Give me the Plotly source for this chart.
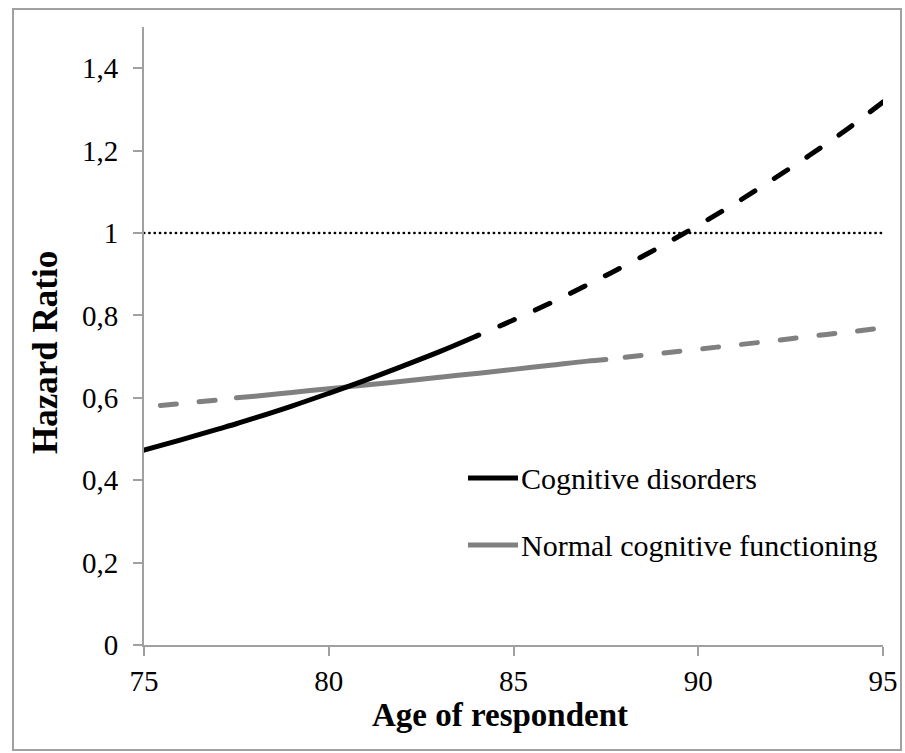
import numpy as np
import plotly.graph_objects as go

# ---------------- data ----------------
age = [75, 76, 77, 77.5, 78, 79, 80, 81, 82, 83, 84, 85, 86, 87, 87.5, 88, 89, 90, 91, 92, 93, 94, 95]
hr_cognitive = [0.473, 0.498, 0.524, 0.537, 0.551, 0.580, 0.611, 0.643, 0.677, 0.712, 0.750, 0.789,
                0.830, 0.874, 0.897, 0.920, 0.968, 1.019, 1.072, 1.129, 1.188, 1.250, 1.318]
hr_normal = [0.578, 0.586, 0.595, 0.600, 0.604, 0.613, 0.622, 0.631, 0.640, 0.650, 0.659, 0.669,
             0.679, 0.689, 0.693, 0.698, 0.708, 0.718, 0.728, 0.738, 0.749, 0.759, 0.770]
series_names = ["Cognitive disorders", "Normal cognitive functioning"]
cognitive_solid_range = (75, 84)
normal_solid_range = (77.5, 87.5)
ref_x = [75, 95]
ref_y = [1, 1]
x_ticks = [75, 80, 85, 90, 95]
y_ticks = [0, 0.2, 0.4, 0.6, 0.8, 1.0, 1.2, 1.4]
y_tick_labels = ["0", "0,2", "0,4", "0,6", "0,8", "1", "1,2", "1,4"]
x_title = "Age of respondent"
y_title = "Hazard Ratio"

# ---------------- style ----------------
FONT = "Liberation Serif, Times New Roman, serif"
BLACK = "#000000"
GREY = "#808080"
AXIS = "#a0a0a0"
LW = 5
DASH = "16px,23px"
W, H = 905, 753
ML, MR, MT, MB = 144, 22, 27, 108
PW = W - ML - MR
PH = H - MT - MB


def px_x(p):
    return (p - ML) / PW


def px_y(p):
    return (H - MB - p) / PH


a = np.array(age)
c = np.array(hr_cognitive)
n = np.array(hr_normal)

fig = go.Figure()

# reference line at HR = 1
fig.add_trace(go.Scatter(x=ref_x, y=ref_y, mode="lines",
                         line=dict(color=BLACK, width=2.5, dash="0.3px,5px"),
                         showlegend=False, hoverinfo="skip"))


def add_segments(vals, solid_rng, color):
    lo, hi = solid_rng
    m_solid = (a >= lo) & (a <= hi)
    m_left = a <= lo
    m_right = a >= hi
    if m_left.sum() > 1:
        fig.add_trace(go.Scatter(x=a[m_left], y=vals[m_left], mode="lines",
                                 line=dict(color=color, width=LW, dash=DASH, shape="spline"),
                                 showlegend=False))
    fig.add_trace(go.Scatter(x=a[m_solid], y=vals[m_solid], mode="lines",
                             line=dict(color=color, width=LW, shape="spline"),
                             showlegend=False))
    if m_right.sum() > 1:
        fig.add_trace(go.Scatter(x=a[m_right], y=vals[m_right], mode="lines",
                                 line=dict(color=color, width=LW, dash=DASH, shape="spline"),
                                 showlegend=False))


add_segments(n, normal_solid_range, GREY)
add_segments(c, cognitive_solid_range, BLACK)

# manual legend (line samples + labels)
legend_items = [(series_names[0], BLACK, 478), (series_names[1], GREY, 545)]
for name, col, yy in legend_items:
    fig.add_shape(type="line", xref="paper", yref="paper", x0=px_x(468), x1=px_x(518),
                  y0=px_y(yy), y1=px_y(yy), line=dict(color=col, width=LW))
    fig.add_annotation(xref="paper", yref="paper", x=px_x(519), y=px_y(yy), text=name, showarrow=False,
                       xanchor="left", yanchor="middle", font=dict(family=FONT, size=30, color=BLACK))

# axis titles
fig.add_annotation(xref="paper", yref="paper", x=px_x(500), y=px_y(715), text="<b>" + x_title + "</b>",
                   showarrow=False, xanchor="center", yanchor="middle",
                   font=dict(family=FONT, size=33, color=BLACK))
fig.add_annotation(xref="paper", yref="paper", x=px_x(45), y=px_y(353), text="<b>" + y_title + "</b>",
                   showarrow=False, xanchor="center", yanchor="middle", textangle=-90,
                   font=dict(family=FONT, size=35, color=BLACK))

# outer frame
fig.add_shape(type="rect", xref="paper", yref="paper",
              x0=px_x(13), x1=px_x(901), y0=px_y(750), y1=px_y(9),
              line=dict(color="#a0a0a0", width=2), layer="below")

fig.update_layout(
    width=W, height=H,
    margin=dict(l=ML, r=MR, t=MT, b=MB, autoexpand=False),
    paper_bgcolor="white", plot_bgcolor="white",
    font=dict(family=FONT, size=29, color=BLACK),
    showlegend=False,
    xaxis=dict(range=[75, 95], tickvals=x_ticks, ticks="outside", ticklen=9, tickwidth=2,
               tickcolor=AXIS, showline=True, linecolor=AXIS, linewidth=2, showgrid=False,
               zeroline=False, tickfont=dict(family=FONT, size=29, color=BLACK),
               ticklabelstandoff=0, automargin=False),
    yaxis=dict(range=[0, 1.5], tickvals=y_ticks, ticktext=y_tick_labels, ticks="outside", ticklen=9,
               tickwidth=2, tickcolor=AXIS, showline=True, linecolor=AXIS, linewidth=2,
               showgrid=False, zeroline=False, tickfont=dict(family=FONT, size=29, color=BLACK),
               ticklabelstandoff=9, automargin=False),
)

post = """
document.documentElement.style.margin='0';
document.documentElement.style.overflow='hidden';
document.body.style.margin='0';
document.body.style.overflow='hidden';
var gd = document.getElementById('{plot_id}');
var offs = {1: 37.5, 3: 25.5, 5: 16};
var P = 39;
gd.querySelectorAll('.scatterlayer .trace').forEach(function(t, i){
  var p = t.querySelector('.js-line');
  if(!p) return;
  p.style.strokeLinecap = 'round';
  if(offs[i] !== undefined){
    var L = p.getTotalLength();
    var o = ((offs[i] - L) % P + P) % P;
    p.style.strokeDashoffset = o + 'px';
  }
});
"""
fig.write_html("out.html", post_script=post, config={"displayModeBar": False, "staticPlot": True})
